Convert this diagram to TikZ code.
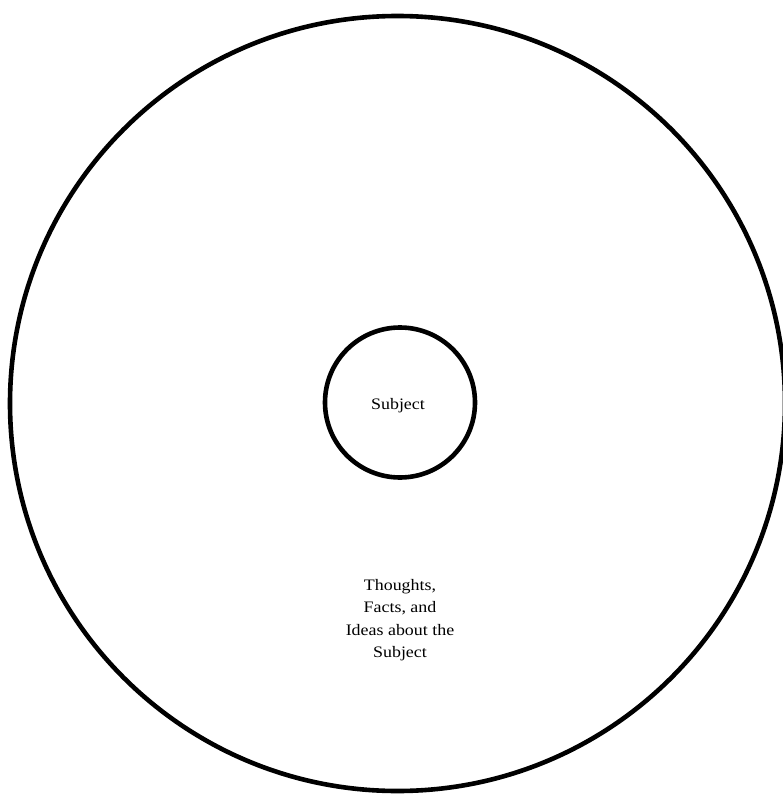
\documentclass[tikz,border=0pt]{standalone}
\usepackage{fontspec}
\setmainfont[FakeStretch=1.12]{Liberation Serif}
\begin{document}
\begin{tikzpicture}[x=1pt,y=1pt,
  ring/.style={circle, draw=black, line width=4.6pt, inner sep=0pt},
  lbl/.style={font=\fontsize{16}{22.5}\selectfont, align=center, text=black}]
\useasboundingbox (0,0) rectangle (782,-794);
\node[ring, minimum size=775] (outer) at (397.5,-403.5) {};
\node[ring, minimum size=150] (inner) at (400,-402.5) {};
\node[lbl] (subject) at (398,-405.5) {Subject};
\node[lbl] (ideas) at (400,-620) {Thoughts,\\Facts, and\\Ideas about the\\Subject};
\end{tikzpicture}
\end{document}
